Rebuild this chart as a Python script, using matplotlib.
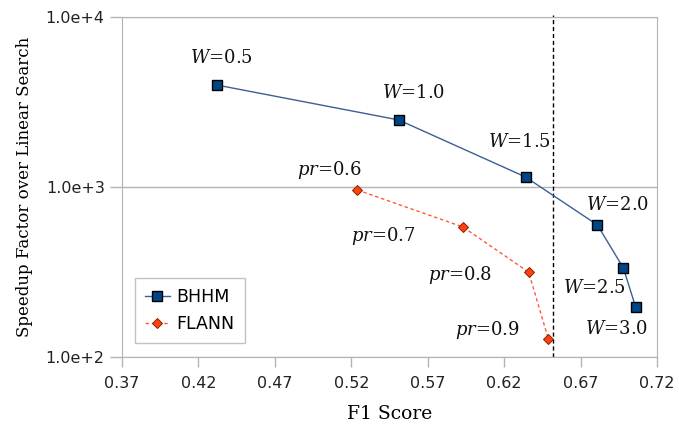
import matplotlib
matplotlib.use("Agg")
import matplotlib.pyplot as plt
from matplotlib.ticker import FixedLocator, FuncFormatter, NullLocator

# data
bhhm_f1 = [0.432, 0.551, 0.634, 0.681, 0.698, 0.706]
bhhm_speedup = [3980, 2480, 1145, 598, 334, 197]
bhhm_labels = ["$W$=0.5", "$W$=1.0", "$W$=1.5", "$W$=2.0", "$W$=2.5", "$W$=3.0"]

flann_f1 = [0.524, 0.593, 0.636, 0.649]
flann_speedup = [960, 582, 316, 127]
flann_labels = ["$pr$=0.6", "$pr$=0.7", "$pr$=0.8", "$pr$=0.9"]

threshold_f1 = 0.652
x_ticks = [0.37, 0.42, 0.47, 0.52, 0.57, 0.62, 0.67, 0.72]
y_ticks = [1e2, 1e3, 1e4]

# label offsets (pixels) from each point
bhhm_offsets = [(5, 27), (15, 27), (-6, 35), (20, 20), (-29, -20), (-19, -22)]
flann_offsets = [(-28, 20), (-80, -9), (-69, -3), (-61, 9)]

plt.rcParams["mathtext.fontset"] = "dejavuserif"

fig = plt.figure(figsize=(6.79, 4.28), dpi=100)
ax = fig.add_axes([0.1797, 0.1659, 0.7879, 0.7944])

ax.plot(bhhm_f1, bhhm_speedup, color="#3d5f94", lw=1, marker="s", ms=7.5,
        mfc="#004586", mec="black", mew=1, label="BHHM", zorder=3)
ax.plot(flann_f1, flann_speedup, color="#ff5a3c", lw=1, ls=(0, (2.5, 2)),
        marker="D", ms=5.5, mfc="#ff420e", mec="#8a2000", mew=0.7,
        label="FLANN", zorder=3)

ax.axvline(threshold_f1, ymin=0, ymax=1.006, color="black", lw=1,
           ls=(0, (3, 2)), clip_on=False, zorder=2)

for x, y, t, off in zip(bhhm_f1, bhhm_speedup, bhhm_labels, bhhm_offsets):
    ax.annotate(t, (x, y), xytext=off, textcoords="offset pixels",
                ha="center", va="center", fontsize=13, family="DejaVu Serif",
                color="#111111")
for x, y, t, off in zip(flann_f1, flann_speedup, flann_labels, flann_offsets):
    ax.annotate(t, (x, y), xytext=off, textcoords="offset pixels",
                ha="center", va="center", fontsize=13, family="DejaVu Serif",
                color="#111111")

ax.set_yscale("log")
ax.set_xlim(0.37, 0.72)
ax.set_ylim(1e2, 1e4)
ax.xaxis.set_major_locator(FixedLocator(x_ticks))
ax.xaxis.set_major_formatter(FuncFormatter(lambda v, p: f"{v:.2f}"))
ax.yaxis.set_major_locator(FixedLocator(y_ticks))
ax.yaxis.set_minor_locator(NullLocator())
ax.yaxis.set_major_formatter(FuncFormatter(lambda v, p: f"{v:.1e}".replace("e+0", "e+")))

ax.grid(axis="y", color="#b3b3b3", lw=1)
ax.set_axisbelow(True)
for s in ax.spines.values():
    s.set_color("#b3b3b3")
ax.tick_params(axis="x", length=7.5, width=1, color="#b3b3b3",
               labelsize=11.5, labelcolor="#222222", pad=6)
ax.tick_params(axis="y", length=8.5, width=1, color="#b3b3b3",
               labelsize=11.5, labelcolor="#222222", pad=4)

ax.set_xlabel("F1 Score", family="DejaVu Serif", fontsize=13.5, labelpad=10)
ax.set_ylabel("Speedup Factor over Linear Search", family="DejaVu Serif",
              fontsize=12, labelpad=9)

leg = ax.legend(loc="lower left", bbox_to_anchor=(0.024, 0.041), borderaxespad=0,
                fontsize=12.5, fancybox=False, edgecolor="#b3b3b3",
                handlelength=1.4, handletextpad=0.4, borderpad=0.6,
                labelspacing=0.5)
leg.get_frame().set_linewidth(1)

fig.savefig("out.png", dpi=100)
